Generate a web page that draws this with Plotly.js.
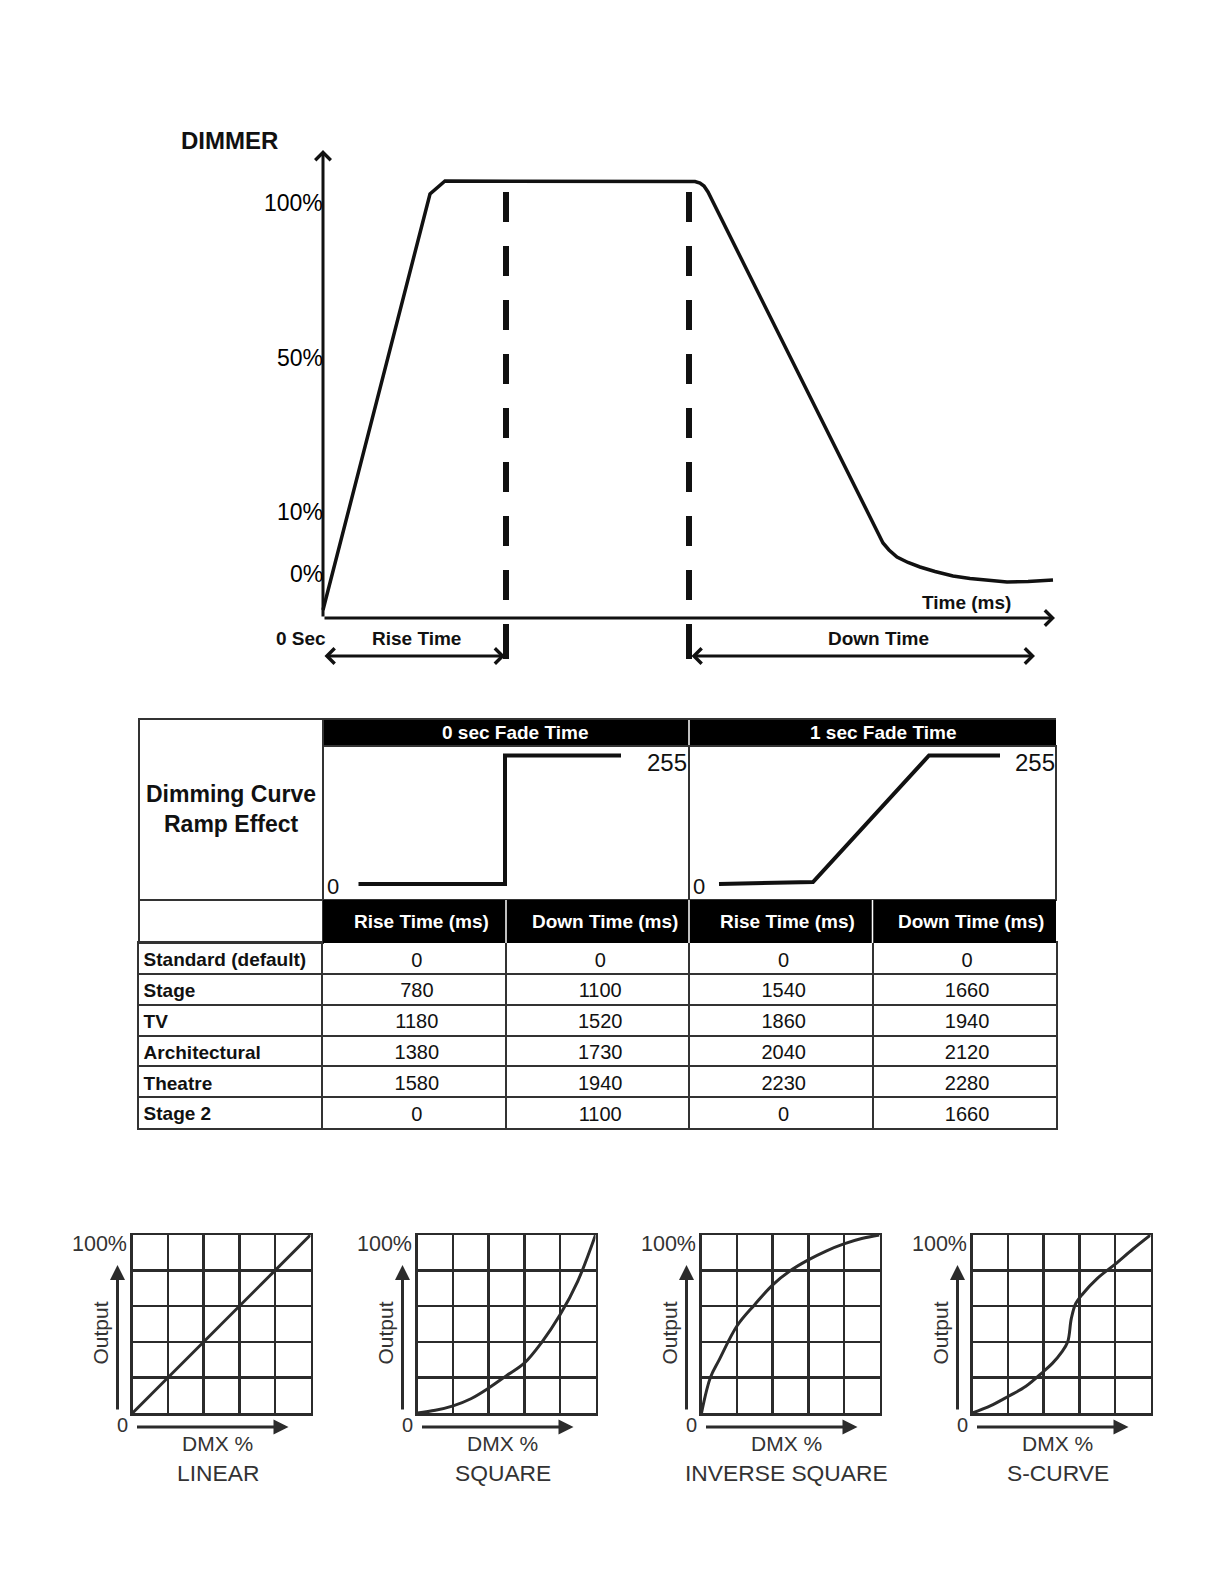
<!DOCTYPE html>
<html>
<head>
<meta charset="utf-8">
<script src="https://cdn.plot.ly/plotly-3.0.1.min.js"></script>
<style>html,body{margin:0;padding:0;background:#fff}#chart{width:1224px;height:1584px}</style>
</head>
<body>
<div id="chart"></div>
<script>
// ---------------- DATA ----------------
// Dimmer ramp schematic (time units / level units are schematic)
const dimmerTime  = [0, 107, 122, 367, 372, 377, 381, 385, 550, 555, 560, 566, 574, 585, 597, 612, 630, 647, 664, 684, 705, 730];
const dimmerLevel = [8, 424, 437, 437, 436.5, 435, 432, 426, 94, 84, 75, 68, 61, 55.5, 51, 46.5, 42, 39.5, 37.5, 36, 36.5, 38];
const dimmerTickVals = [415, 260.5, 106, 44.4];
const dimmerTickText = ['100%', '50%', '10%', '0%'];
const riseEndTime = 183;
const downStartTime = 366;

// Fade-time mini curves (DMX 0..255)
const fadeHeaders = ['0 sec Fade Time', '1 sec Fade Time'];
const fade0Time  = [35.5, 182, 182, 298];
const fade0Level = [0, 0, 255, 255];
const fade1Time  = [30, 124, 240, 311];
const fade1Level = [0, 4, 255, 255];

// Table
const tableHeader = ['Rise Time (ms)', 'Down Time (ms)', 'Rise Time (ms)', 'Down Time (ms)'];
const curveModes  = ['Standard (default)', 'Stage', 'TV', 'Architectural', 'Theatre', 'Stage 2'];
const rise0sec = [0, 780, 1180, 1380, 1580, 0];
const down0sec = [0, 1100, 1520, 1730, 1940, 1100];
const rise1sec = [0, 1540, 1860, 2040, 2230, 0];
const down1sec = [0, 1660, 1940, 2120, 2280, 1660];

// Dimming curves (DMX % -> Output %)
const curveTitles = ['LINEAR', 'SQUARE', 'INVERSE SQUARE', 'S-CURVE'];
const linearDmx = [0, 100];
const linearOut = [0, 100];
const squareDmx = [0, 10, 20, 30, 40, 50, 60, 70, 80, 90, 100];
const squareOut = [0, 1.5, 4, 8, 14, 21, 28, 40, 55, 74, 100];
const invSquareDmx = [0, 5, 10, 20, 30, 40, 50, 60, 70, 80, 90, 100];
const invSquareOut = [0, 20, 30, 49, 61, 72, 80, 86, 91, 95, 98, 100];
const sCurveDmx = [0, 10, 20, 30, 40, 45, 50, 53.5, 55.5, 58, 62, 70, 80, 90, 100];
const sCurveOut = [0, 4, 9.3, 15, 23.4, 28, 34, 40, 53, 61.5, 67, 75.5, 83.5, 92, 100];

// ---------------- LAYOUT HELPERS ----------------
const W = 1224, H = 1584;
const FONT = 'Liberation Sans, Arial, Helvetica, sans-serif';
const INK = '#111111';
const GRAY = '#2b2b2b';
const PX = v => v / W;
const PY = v => 1 - v / H;

function label(text, x, y, size, opts) {
  return Object.assign({
    text: text, x: PX(x), y: PY(y), xref: 'paper', yref: 'paper',
    showarrow: false, xanchor: 'center', yanchor: 'middle',
    font: {family: FONT, size: size, color: INK}
  }, opts || {});
}
function arrow(x0, y0, x1, y1, head, width, color, both, size) {
  return {
    text: '', x: PX(x1), y: PY(y1), xref: 'paper', yref: 'paper',
    ax: x0 - x1, ay: y0 - y1, axref: 'pixel', ayref: 'pixel',
    showarrow: true, arrowhead: head, startarrowhead: head,
    arrowsize: size || 1, startarrowsize: size || 1,
    arrowwidth: width, arrowcolor: color,
    arrowside: both ? 'end+start' : 'end', standoff: 0, startstandoff: 0
  };
}
function hiddenAxis(d0, d1, r0, r1) {
  return {domain: [d0, d1], range: [r0, r1], visible: false, fixedrange: true};
}
function rectP(x0, x1, y0, y1, fill, lineColor, lw) {
  return {type: 'rect', xref: 'paper', yref: 'paper', x0: PX(x0), x1: PX(x1), y0: PY(y0), y1: PY(y1),
    fillcolor: fill, line: {color: lineColor || 'rgba(0,0,0,0)', width: lw || 0}};
}
function lineP(x0, y0, x1, y1, color, lw) {
  return {type: 'line', xref: 'paper', yref: 'paper', x0: PX(x0), x1: PX(x1), y0: PY(y0), y1: PY(y1),
    line: {color: color, width: lw}};
}

const traces = [];
const annotations = [];
const shapes = [];
const layout = {
  width: W, height: H, margin: {l: 0, r: 0, t: 0, b: 0},
  paper_bgcolor: '#ffffff', plot_bgcolor: 'rgba(0,0,0,0)',
  showlegend: false, font: {family: FONT, color: INK}
};

// ---------------- TOP: DIMMER RAMP ----------------
const OX = 323, OY = 618; // origin of schematic axes (page pixels)
layout.xaxis = hiddenAxis(PX(250), PX(1070), 250 - OX, 1070 - OX);
layout.yaxis = hiddenAxis(PY(690), PY(120), OY - 690, OY - 120);
traces.push({
  type: 'scatter', mode: 'lines', x: dimmerTime, y: dimmerLevel, xaxis: 'x', yaxis: 'y',
  line: {color: INK, width: 3.5}, hoverinfo: 'skip'
});
annotations.push(arrow(OX, OY, 1055, OY, 4, 3, INK));
annotations.push(arrow(OX, OY, OX, 150, 4, 3, INK));
dimmerTickVals.forEach((v, i) => {
  annotations.push({
    text: dimmerTickText[i], x: 0, y: v, xref: 'x', yref: 'y', showarrow: false,
    xanchor: 'right', yanchor: 'middle', xshift: 2,
    font: {family: FONT, size: 23, color: '#000'}
  });
});
[riseEndTime, downStartTime].forEach(t => {
  shapes.push({type: 'line', xref: 'x', yref: 'y', x0: t, x1: t, y0: OY - 192, y1: OY - 601,
    line: {color: INK, width: 6, dash: '30px,24px'}});
  shapes.push({type: 'line', xref: 'x', yref: 'y', x0: t, x1: t, y0: OY - 624, y1: OY - 659,
    line: {color: INK, width: 6}});
});
annotations.push(label('<b>DIMMER</b>', 229, 141, 24));
annotations.push(label('<b>0 Sec</b>', 301, 638, 19));
annotations.push(label('<b>Rise Time</b>', 416, 638, 19));
annotations.push(label('<b>Down Time</b>', 878, 638, 19));
annotations.push(label('<b>Time (ms)</b>', 966, 603, 19));
annotations.push(arrow(OX, 656, 505, 656, 4, 3, INK, true));
annotations.push(arrow(690, 656, 1035, 656, 4, 3, INK, true));

// ---------------- MIDDLE: TABLE ----------------
const TL = 139, TR = 1056;
const colEdges = [139, 323, 506, 689, 872.5, 1056];
const C1 = colEdges[1], C3 = colEdges[3];
// header band 1
shapes.push(rectP(C1, TR, 719, 746, '#000'));
shapes.push(lineP(C3, 719, C3, 746, '#fff', 1.5));
// label cell + mini-chart cells
shapes.push(rectP(TL, C1, 719, 943, 'rgba(0,0,0,0)', '#333', 2));
shapes.push(rectP(C1, C3, 746, 900, 'rgba(0,0,0,0)', '#333', 2));
shapes.push(rectP(C3, TR, 746, 900, 'rgba(0,0,0,0)', '#333', 2));
shapes.push(lineP(TL, 900, C1, 900, '#333', 2));
shapes.push(lineP(C1, 719, TR, 719, '#333', 2));
// header band 2
shapes.push(rectP(C1, TR, 900, 943, '#000'));
[colEdges[2], colEdges[3], colEdges[4]].forEach(x => shapes.push(lineP(x, 900, x, 943, '#fff', 1.5)));
annotations.push(label('<b>' + fadeHeaders[0] + '</b>', (C1 + C3) / 2 + 9, 732.5, 19, {font: {family: FONT, size: 19, color: '#fff'}}));
annotations.push(label('<b>' + fadeHeaders[1] + '</b>', (C3 + TR) / 2 + 10, 732.5, 19, {font: {family: FONT, size: 19, color: '#fff'}}));
tableHeader.forEach((h, i) => {
  annotations.push(label('<b>' + h + '</b>', (colEdges[i + 1] + colEdges[i + 2]) / 2 + 7, 921.5, 19,
    {font: {family: FONT, size: 19, color: '#fff'}}));
});
annotations.push(label('<b>Dimming Curve</b>', 231, 794, 23));
annotations.push(label('<b>Ramp Effect</b>', 231, 824, 23));

// mini fade charts: level 0 at y=884px, 255 at y=755.5px
const lvlPerPx = 255 / 128.5;
const miniY = [-(900 - 884) * lvlPerPx, (884 - 746) * lvlPerPx];
layout.xaxis2 = hiddenAxis(PX(C1), PX(C3), 0, C3 - C1);
layout.yaxis2 = hiddenAxis(PY(900), PY(746), miniY[0], miniY[1]);
layout.xaxis3 = hiddenAxis(PX(C3), PX(TR), 0, TR - C3);
layout.yaxis3 = hiddenAxis(PY(900), PY(746), miniY[0], miniY[1]);
traces.push({type: 'scatter', mode: 'lines', x: fade0Time, y: fade0Level, xaxis: 'x2', yaxis: 'y2',
  line: {color: INK, width: 4}, hoverinfo: 'skip'});
traces.push({type: 'scatter', mode: 'lines', x: fade1Time, y: fade1Level, xaxis: 'x3', yaxis: 'y3',
  line: {color: INK, width: 4}, hoverinfo: 'skip'});
annotations.push(label('0', 325, 886, 22, {xanchor: 'left'}));
annotations.push(label('255', 689, 762, 24, {xanchor: 'right'}));
annotations.push(label('0', 691, 886, 22, {xanchor: 'left'}));
annotations.push(label('255', 1057, 762, 24, {xanchor: 'right'}));

// data rows of the table on their own axes (columns 0..5, rows 0..5)
const gridAx = {showgrid: true, gridcolor: '#333', gridwidth: 2, showline: true, mirror: true,
  linecolor: '#333', linewidth: 2, zeroline: false, showticklabels: false, ticks: '', fixedrange: true};
layout.xaxis8 = Object.assign({}, gridAx, {domain: [PX(TL), PX(TR)], range: [0, 5], tick0: 0, dtick: 1, anchor: 'y8'});
layout.yaxis8 = Object.assign({}, gridAx, {domain: [PY(1128), PY(943)], range: [5.5, -0.5], tick0: 0.5, dtick: 1, anchor: 'x8'});
const TEXT_DY = 0.1;   // small downward nudge of text inside each row
const rowIdx = curveModes.map((m, r) => r + TEXT_DY);
traces.push({type: 'scatter', mode: 'text', x: curveModes.map(() => 0.025), y: rowIdx,
  text: curveModes.map(m => '<b>' + m + '</b>'), textposition: 'middle right',
  textfont: {family: FONT, size: 19, color: INK}, xaxis: 'x8', yaxis: 'y8', cliponaxis: false, hoverinfo: 'skip'});
const numCols = [rise0sec, down0sec, rise1sec, down1sec];
const numX = [], numY = [], numT = [];
numCols.forEach((col, c) => col.forEach((v, r) => { numX.push(c + 1.515); numY.push(r + TEXT_DY); numT.push(String(v)); }));
traces.push({type: 'scatter', mode: 'text', x: numX, y: numY, text: numT, textposition: 'middle center',
  textfont: {family: FONT, size: 20, color: INK}, xaxis: 'x8', yaxis: 'y8', cliponaxis: false, hoverinfo: 'skip'});

// ---------------- BOTTOM: DIMMING CURVES ----------------
const curveSets = [[linearDmx, linearOut, 'linear'], [squareDmx, squareOut, 'spline'],
                   [invSquareDmx, invSquareOut, 'spline'], [sCurveDmx, sCurveOut, 'spline']];
const boxLefts = [132.5, 417.5, 701.5, 972.5];
const BW = 178, BT = 1235, BB = 1413;
curveSets.forEach((c, i) => {
  const n = i + 4;
  const L = boxLefts[i];
  const ax = {
    range: [0, 100], dtick: 20, tick0: 0, showgrid: true, gridcolor: GRAY, gridwidth: 2.5,
    showline: true, mirror: true, linecolor: GRAY, linewidth: 2.5, zeroline: false,
    showticklabels: false, ticks: '', fixedrange: true
  };
  layout['xaxis' + n] = Object.assign({}, ax, {domain: [PX(L), PX(L + BW)], anchor: 'y' + n});
  layout['yaxis' + n] = Object.assign({}, ax, {domain: [PY(BB), PY(BT)], anchor: 'x' + n});
  traces.push({type: 'scatter', mode: 'lines', x: c[0], y: c[1], xaxis: 'x' + n, yaxis: 'y' + n,
    line: {color: GRAY, width: 3, shape: c[2], smoothing: 1}, cliponaxis: false, hoverinfo: 'skip'});
  const f = {family: FONT, size: 21.5, color: '#333'};
  annotations.push(label('100%', L - 4, 1244, 21.5, {xanchor: 'right', font: f}));
  annotations.push(label('Output', L - 33, 1333, 21, {textangle: -90, font: Object.assign({}, f, {size: 21})}));
  annotations.push(label('0', L - 10, 1425, 20, {font: Object.assign({}, f, {size: 20})}));
  annotations.push(label('DMX %', L + 85, 1443, 21, {font: Object.assign({}, f, {size: 21})}));
  annotations.push(label(curveTitles[i], L + 85, 1473, 22.8, {font: Object.assign({}, f, {size: 22.8})}));
  annotations.push(arrow(L - 15, 1411, L - 15, 1265, 2, 3, GRAY));
  annotations.push(arrow(L + 3, 1427, L + 156, 1427, 2, 3, GRAY));
});

layout.annotations = annotations;
layout.shapes = shapes;
Plotly.newPlot('chart', traces, layout, {staticPlot: true, displayModeBar: false});
</script>
</body>
</html>
